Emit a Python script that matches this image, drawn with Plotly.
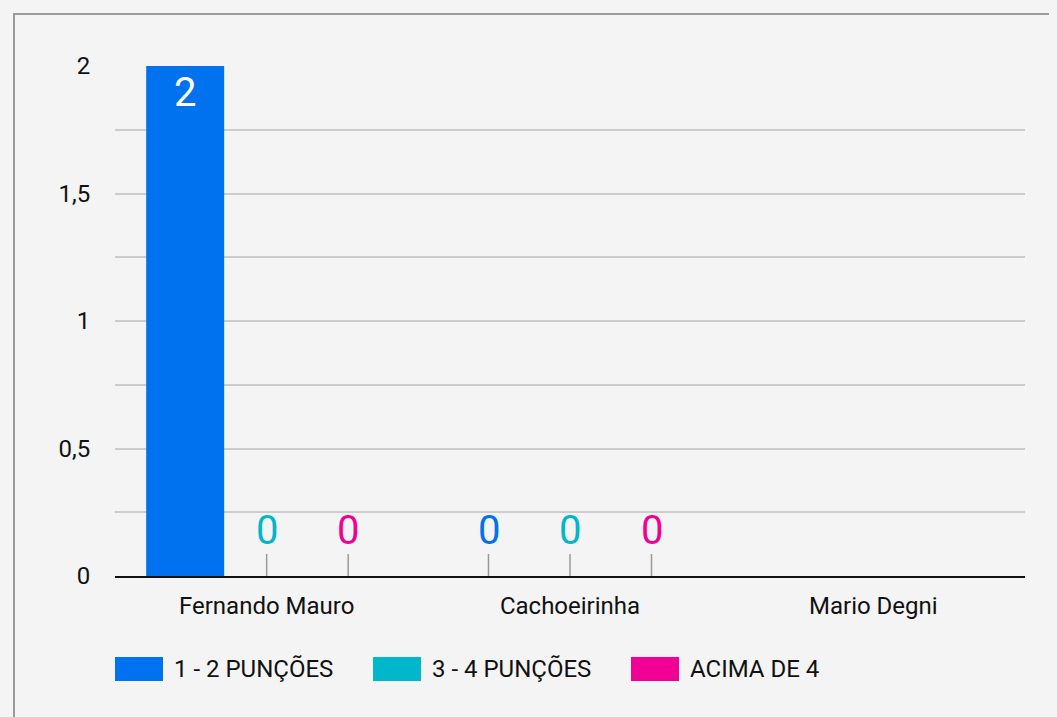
import plotly.graph_objects as go

categories = ["Fernando Mauro", "Cachoeirinha", "Mario Degni"]
series_names = ["1 - 2 PUNÇÕES", "3 - 4 PUNÇÕES", "ACIMA DE 4"]
series_values = [
    [2, 0, None],
    [0, 0, None],
    [0, 0, None],
]
series_colors = ["#0072f0", "#00b6cb", "#f10096"]

BG = "#f4f4f4"
# page offset (body margin) compensation: figure coords = page coords - 8
OFF = 8
W, H = 1057 - OFF, 717 - OFF
L, T = 115 - OFF, 66 - OFF
plot_w = 910
plot_h = 510
R = W - L - plot_w
B = H - T - plot_h
BARGAP = 0.194
FONT = "Roboto, Arial, sans-serif"


def px_x(p):
    return (p - OFF - L) / plot_w


def px_y(p):
    return (T + plot_h - (p - OFF)) / plot_h


fig = go.Figure()
for name, vals, col in zip(series_names, series_values, series_colors):
    txt = [str(v) if (v is not None and v != 0) else "" for v in vals]
    fig.add_trace(go.Bar(
        name=name, x=categories, y=vals, marker=dict(color=col, line=dict(width=0)),
        text=txt, textposition="inside", insidetextanchor="end",
        textfont=dict(color="white", size=40, family=FONT),
        showlegend=False, cliponaxis=False,
    ))

# zero-value labels with connector lines
n = len(series_names)
slot = (1 - BARGAP) / n
for k, (vals, col) in enumerate(zip(series_values, series_colors)):
    for i, v in enumerate(vals):
        if v == 0:
            fig.add_annotation(
                x=i + (k - (n - 1) / 2) * slot, y=v, xref="x", yref="y",
                text=str(v), showarrow=True, arrowhead=0, arrowwidth=1.5,
                arrowcolor="#999999", ax=0, ay=-46, borderpad=0,
                font=dict(color=col, size=40, family=FONT),
            )

# custom legend (large swatches)
leg_x0 = [115, 373, 631]
for x0, name, col in zip(leg_x0, series_names, series_colors):
    fig.add_shape(type="rect", xref="paper", yref="paper",
                  x0=px_x(x0), x1=px_x(x0 + 48),
                  y0=px_y(681), y1=px_y(657),
                  fillcolor=col, line=dict(width=0))
    fig.add_annotation(xref="paper", yref="paper", x=px_x(x0 + 57),
                       y=px_y(669), xanchor="left", yanchor="middle",
                       text=name, showarrow=False,
                       font=dict(size=24, color="#111111", family=FONT))

# outer card border
fig.add_shape(type="rect", xref="paper", yref="paper",
              x0=px_x(14), x1=px_x(1100),
              y0=px_y(760), y1=px_y(14),
              line=dict(color="#9a9a9a", width=2), fillcolor="rgba(0,0,0,0)", layer="below")

fig.update_layout(
    width=W, height=H, margin=dict(l=L, r=R, t=T, b=B),
    paper_bgcolor=BG, plot_bgcolor=BG,
    barmode="group", bargap=BARGAP, bargroupgap=0.043,
    separators=",.",
    font=dict(family=FONT, size=24, color="#111111"),
    xaxis=dict(showgrid=False, showline=True, linecolor="#111111", linewidth=2,
               ticks="outside", ticklen=0, ticklabelstandoff=7,
               tickfont=dict(size=24, color="#111111")),
    yaxis=dict(range=[0, 2], dtick=0.5, showgrid=True, gridcolor="#cccccc", gridwidth=1.5,
               zeroline=False, ticks="outside", ticklen=0, ticklabelstandoff=19,
               tickfont=dict(size=24, color="#111111"),
               minor=dict(dtick=0.25, showgrid=True, gridcolor="#cccccc", gridwidth=1.5)),
)

fig.write_html("out.html",
               post_script="document.body.style.background='" + BG + "';"
                           "document.documentElement.style.background='" + BG + "';")
